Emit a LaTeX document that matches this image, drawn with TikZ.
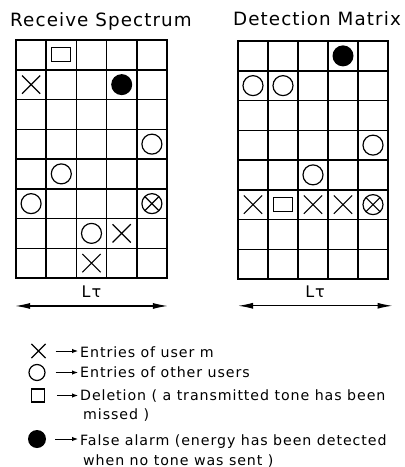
\documentclass[tikz,border=0pt]{standalone}
\usepackage{fontspec}
\setmainfont{DejaVu Sans}[LetterSpace=6]
\newfontfamily\legendfont{DejaVu Sans}[LetterSpace=6.5]
\usepackage{tikz}
\usetikzlibrary{positioning, arrows.meta, shapes.misc}

\begin{document}
\begin{tikzpicture}[x=1pt, y=-1pt]
    \tikzstyle{gridline} = [line width=1.5pt, line cap=rect]
    \tikzstyle{usernode} = [cross out, draw, minimum size=17pt, inner sep=0pt, line width=1.2pt]
    \tikzstyle{othernode} = [circle, draw, minimum size=20pt, inner sep=0pt, line width=1.2pt]
    \tikzstyle{deletenode} = [rectangle, draw, minimum width=19pt, minimum height=14pt, inner sep=0pt, line width=1.2pt]
    \tikzstyle{alarmnode} = [circle, fill, minimum size=21pt, inner sep=0pt]
    \tikzstyle{bothnode} = [othernode, path picture={\draw[line width=1.2pt] (path picture bounding box.north west) -- (path picture bounding box.south east) (path picture bounding box.north east) -- (path picture bounding box.south west);}]
    \tikzstyle{titlenode} = [font=\fontsize{18.3}{20}\selectfont, inner sep=0pt, anchor=base]
    \tikzstyle{lnode} = [font=\fontsize{16}{18}\selectfont, inner sep=0pt, anchor=base]
    \tikzstyle{legendtext} = [font=\legendfont\fontsize{14.2}{17}\selectfont, inner sep=0pt, anchor=base west]
    \tikzstyle{spanarrow} = [{Latex[length=15pt,width=6pt]}-{Latex[length=15pt,width=6pt]}, line width=1.2pt]
    \tikzstyle{legarrow} = [-{Latex[length=6pt,width=4.5pt]}, line width=1pt]

    \fill[white] (0,0) rectangle (405,467);
    \useasboundingbox (0,0) rectangle (405,467);

    \node [titlenode] (rs) at (101,26) {Receive Spectrum};
    \node [titlenode] (dm) at (317,25) {Detection Matrix};

    \begin{scope}[shift={(16pt,-40pt)}, x=30.2pt, y=-29.75pt]
      \foreach \i in {0,...,5} \draw[gridline] (\i,0) -- (\i,8);
      \foreach \j in {0,...,8} \draw[gridline] (0,\j) -- (5,\j);
      \node [deletenode] (rsq1) at (1.5,0.5) {};
      \node [usernode] (rx1) at (0.5,1.5) {};
      \node [alarmnode] (rfa1) at (3.5,1.5) {};
      \node [othernode] (ro1) at (4.5,3.5) {};
      \node [othernode] (ro2) at (1.5,4.5) {};
      \node [othernode] (ro3) at (0.5,5.5) {};
      \node [bothnode] (rb1) at (4.5,5.5) {};
      \node [othernode] (ro4) at (2.5,6.5) {};
      \node [usernode] (rx2) at (3.5,6.5) {};
      \node [usernode] (rx3) at (2.5,7.5) {};
      \node [lnode] (rlt) at (2.5,8.67) {Lτ};
      \coordinate (rla) at (-0.03,8.94);
      \coordinate (rlb) at (5.03,8.94);
      \draw[spanarrow] (rla) -- (rlb);
    \end{scope}

    \begin{scope}[shift={(238pt,-41pt)}, x=30pt, y=-29.75pt]
      \foreach \i in {0,...,5} \draw[gridline] (\i,0) -- (\i,8);
      \foreach \j in {0,...,8} \draw[gridline] (0,\j) -- (5,\j);
      \node [alarmnode] (dfa1) at (3.5,0.5) {};
      \node [othernode] (do1) at (0.5,1.5) {};
      \node [othernode] (do2) at (1.5,1.5) {};
      \node [othernode] (do3) at (4.5,3.5) {};
      \node [othernode] (do4) at (2.5,4.5) {};
      \node [usernode] (dx1) at (0.5,5.5) {};
      \node [deletenode] (dsq1) at (1.5,5.5) {};
      \node [usernode] (dx2) at (2.5,5.5) {};
      \node [usernode] (dx3) at (3.5,5.5) {};
      \node [bothnode] (db1) at (4.5,5.5) {};
      \node [lnode] (dlt) at (2.57,8.63) {Lτ};
      \coordinate (dla) at (0,8.9);
      \coordinate (dlb) at (5.15,8.9);
      \draw[spanarrow] (dla) -- (dlb);
    \end{scope}

    \node [usernode, minimum size=13pt] (lgx) at (38.5,351) {};
    \node [othernode, minimum size=16pt] (lgo) at (37,372.5) {};
    \node [deletenode, minimum width=12.5pt, minimum height=13pt] (lgs) at (38,395.5) {};
    \node [alarmnode, minimum size=18pt] (lgf) at (37,439) {};

    \node [legendtext] (tx1) at (80,357) {Entries of user m};
    \node [legendtext] (tx2) at (80,377.5) {Entries of other users};
    \node [legendtext] (tx3) at (80,400) {Deletion ( a transmitted tone has been};
    \node [legendtext] (tx3b) at ([xshift=3pt,yshift=-19pt]tx3.base west) {missed )};
    \node [legendtext] (tx4) at (80,445) {False alarm (energy has been detected};
    \node [legendtext] (tx4b) at ([xshift=3pt,yshift=-20pt]tx4.base west) {when no tone was sent )};

    \draw[legarrow] ([xshift=10pt]lgx.east) -- ([xshift=-2pt]lgx -| tx1.west);
    \draw[legarrow] ([xshift=10pt]lgo.east) -- ([xshift=-2pt]lgo -| tx2.west);
    \draw[legarrow] ([xshift=12pt]lgs.east) -- ([xshift=-2pt]lgs -| tx3.west);
    \draw[legarrow] ([xshift=9pt]lgf.east) -- ([xshift=-2pt]lgf -| tx4.west);
  \end{tikzpicture}
\end{document}
